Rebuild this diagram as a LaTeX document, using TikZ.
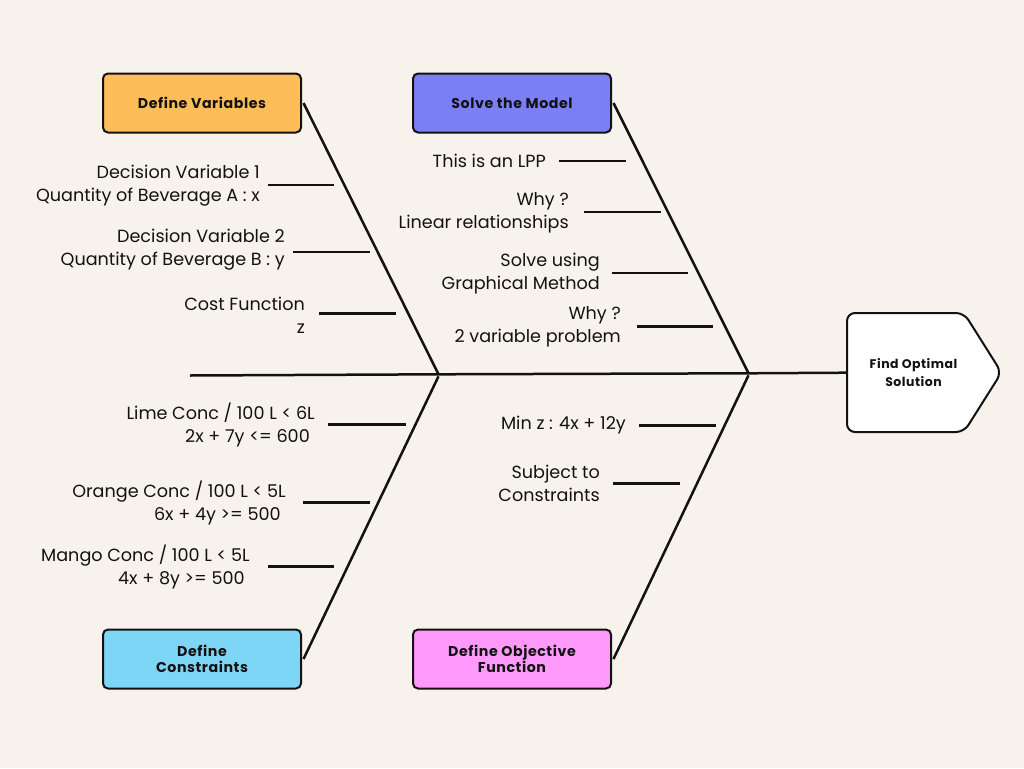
\documentclass[tikz,border=0pt]{standalone}
\usepackage{fontspec}
\setmainfont{Poppins}
\newfontfamily\hdrfont[LetterSpace=4.0]{Poppins}
\definecolor{bg}{RGB}{247,243,236}
\definecolor{cOrange}{RGB}{254,189,89}
\definecolor{cViolet}{RGB}{122,127,245}
\definecolor{cCyan}{RGB}{125,214,245}
\definecolor{cPink}{RGB}{255,153,251}
\definecolor{ink}{RGB}{18,18,18}
\tikzset{
  hbox/.style={draw=ink, line width=2pt, rounded corners=5pt, minimum width=198pt,
    minimum height=59pt, align=center, inner sep=0pt, text=ink,
    font=\hdrfont\bfseries\fontsize{14.2}{16.5}\selectfont},
  txt/.style={anchor=east, align=right, inner sep=0pt, text=ink, yshift=-1.8pt,
    font=\fontsize{17.6}{23}\selectfont},
  bone/.style={draw=ink, line width=2.5pt},
  rib/.style={draw=ink, line width=2.5pt},
}
\begin{document}
\begin{tikzpicture}[x=1pt,y=-1pt]
\fill[bg] (0,0) rectangle (1024,768);
\useasboundingbox (0,0) rectangle (1024,768);

% category boxes
\node[hbox, fill=cOrange] (dv) at (202,103) {Define Variables};
\node[hbox, fill=cViolet] (sm) at (512,103) {Solve the Model};
\node[hbox, fill=cCyan] (dc) at (202,659) {Define\\Constraints};
\node[hbox, fill=cPink] (of) at (512,659) {Define Objective\\Function};

% head
\draw[ink, line width=2pt, fill=white, rounded corners=8pt]
  (847,313) -- (964,313) -- (1001.5,372.5) -- (964,432) -- (847,432) -- cycle;
\node[align=center, inner sep=0pt, text=ink, font=\hdrfont\bfseries\fontsize{12.5}{18}\selectfont]
  (fos) at (913.5,372.5) {Find Optimal\\Solution};

% spine
\coordinate (tail) at (190,375.5);
\coordinate (jL) at (438.5,374.3);
\coordinate (jR) at (748.5,373.3);
\coordinate (fosW) at (846,372.7);
\draw[bone] (tail) -- (jL) -- (jR) -- (fosW);

% diagonal bones
\draw[bone] ([xshift=1.5pt]dv.east) -- (jL);
\draw[bone] ([xshift=1.5pt]sm.east) -- (jR);
\draw[bone] ([xshift=1.5pt]dc.east) -- ([yshift=-2pt]jL);
\draw[bone] ([xshift=1.5pt]of.east) -- ([yshift=-2pt]jR);

% upper left
\node[txt] (t1) at (260,183.5) {Decision Variable 1\\Quantity of Beverage A : x};
\node[txt] (t2) at (285,247.5) {Decision Variable 2\\Quantity of Beverage B : y};
\node[txt] (t3) at (305,313.5) {Cost Function\\z};
\draw[rib] (268,185) -- (334,185);
\draw[rib] (293,252) -- (370,252);
\draw[rib] (319,313.5) -- (396,313.5);

% upper right
\node[txt] (t4) at (546,159) {This is an LPP};
\node[txt] (t5) at (569,210.5) {Why ?\\Linear relationships};
\node[txt] (t6) at (600,271.5) {Solve using\\Graphical Method};
\node[txt] (t7) at (621,324.5) {Why ?\\2 variable problem};
\draw[rib] (559,161) -- (626,161);
\draw[rib] (584,212) -- (661,212);
\draw[rib] (612,273) -- (688,273);
\draw[rib] (637,326.5) -- (713,326.5);

% lower left
\node[txt] (t8) at (315,423) {Lime Conc / 100 L < 6L\\2x + 7y <= 600\rule{5pt}{0pt}};
\node[txt] (t9) at (286,501.5) {Orange Conc / 100 L < 5L\\6x + 4y >= 500\rule{5pt}{0pt}};
\node[txt] (t10) at (250,565.5) {Mango Conc / 100 L < 5L\\4x + 8y >= 500\rule{5pt}{0pt}};
\draw[rib] (328,424.7) -- (405.5,424.7);
\draw[rib] (303,502.5) -- (370,502.5);
\draw[rib] (268,566.7) -- (334,566.7);

% lower right
\node[txt] (t11) at (626,423) {Min z : 4x + 12y};
\node[txt] (t12) at (600,481.5) {Subject to\\Constraints};
\draw[rib] (639,425.3) -- (716,425.3);
\draw[rib] (613,483.3) -- (680,483.3);
\end{tikzpicture}
\end{document}
